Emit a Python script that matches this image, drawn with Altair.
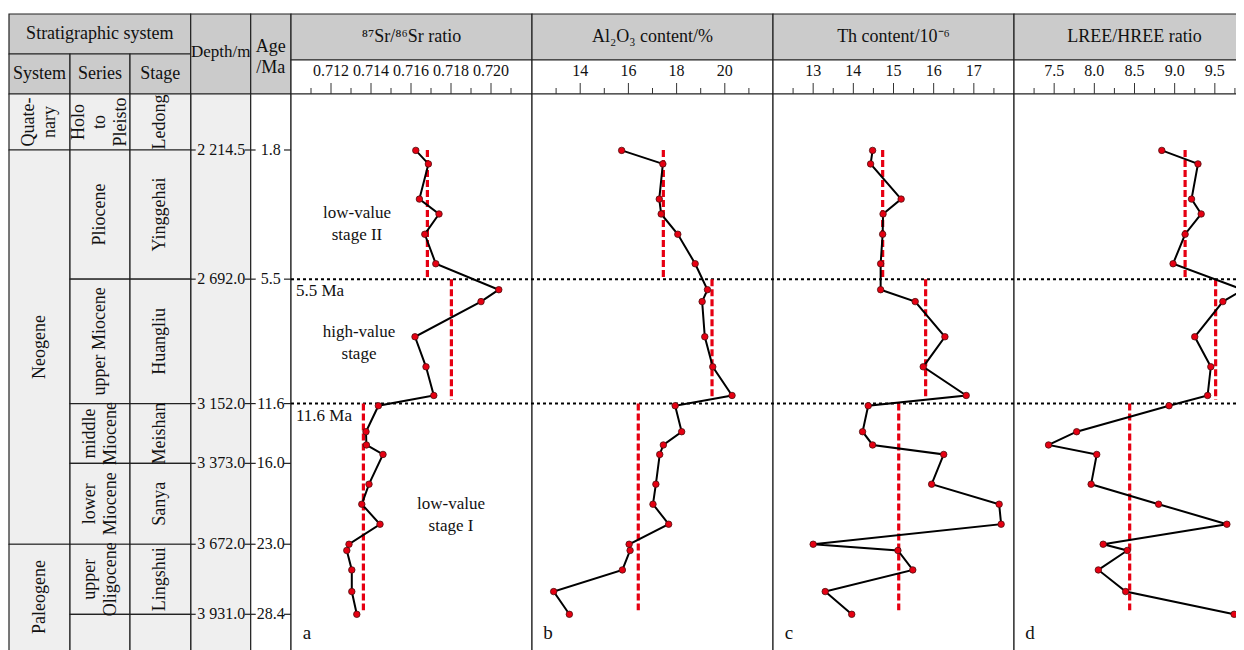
import altair as alt
import pandas as pd

# ------------------------------------------------------------------ data
sample_depth = [2216, 2266, 2396, 2451, 2526, 2635, 2731, 2775, 2905, 3016, 3122, 3160,
                3256, 3305, 3340, 3450, 3524, 3598, 3672, 3695, 3767, 3847, 3931]
sr_ratio = [0.71624, 0.71687, 0.71642, 0.71740, 0.71669, 0.71724, 0.72039, 0.71950,
            0.71620, 0.71675, 0.71714, 0.71437, 0.71375, 0.71377, 0.71460, 0.71390,
            0.71354, 0.71445, 0.71290, 0.71279, 0.71304, 0.71304, 0.71329]
al2o3 = [15.72, 17.43, 17.28, 17.36, 18.05, 18.77, 19.28, 19.06, 19.17, 19.50, 20.30, 17.94,
         18.21, 17.45, 17.30, 17.14, 17.02, 17.67, 16.03, 16.07, 15.75, 12.90, 13.55]
th = [14.48, 14.43, 15.19, 14.74, 14.73, 14.68, 14.68, 15.54, 16.28, 15.74, 16.81, 14.37,
      14.23, 14.48, 16.25, 15.95, 17.63, 17.68, 13.00, 15.11, 15.48, 13.30, 13.96]
lree_hree = [8.84, 9.29, 9.21, 9.33, 9.13, 8.98, 9.85, 9.60, 9.25, 9.45, 9.41, 8.93,
             7.78, 7.43, 8.03, 7.96, 8.80, 9.65, 8.11, 8.41, 8.05, 8.39, 9.74]

# stage averages (red dashed lines)
stage_top = [2214.5, 2692.0, 3152.0]
stage_bottom = [2688.0, 3138.0, 3916.0]
sr_mean = [0.71682, 0.71802, 0.71362]
al_mean = [17.45, 19.47, 16.41]
th_mean = [14.73, 15.80, 15.13]
lree_mean = [9.13, 9.51, 8.44]

# stratigraphic boundaries
boundary_depth = [2214.5, 2692.0, 3152.0, 3373.0, 3672.0, 3931.0]
depth_labels = ["2 214.5", "2 692.0", "3 152.0", "3 373.0", "3 672.0", "3 931.0"]
age_labels = ["1.8", "5.5", "11.6", "16.0", "23.0", "28.4"]
event_index = [1, 2]  # 5.5 Ma and 11.6 Ma dotted lines

system_names = ["Quate-\nnary", "Neogene", "Paleogene"]
system_top_bottom = [(None, 2214.5), (2214.5, 3672.0), (3672.0, None)]
series_names = ["Holo\nto\nPleisto", "Pliocene", "upper Miocene", "middle\nMiocene",
                "lower\nMiocene", "upper\nOligocene", ""]
stage_names = ["Ledong", "Yinggehai", "Huangliu", "Meishan", "Sanya", "Lingshui", ""]
unit_top_bottom = [(None, 2214.5), (2214.5, 2692.0), (2692.0, 3152.0), (3152.0, 3373.0),
                   (3373.0, 3672.0), (3672.0, 3931.0), (3931.0, None)]

sr_ticks = [0.712, 0.714, 0.716, 0.718, 0.720]
sr_tick_labels = ["0.712", "0.714", "0.716", "0.718", "0.720"]
sr_minor = [0.711, 0.713, 0.715, 0.717, 0.719, 0.721]
al_ticks = [14, 16, 18, 20]
al_tick_labels = ["14", "16", "18", "20"]
al_minor = [13, 15, 17, 19, 21]
th_ticks = [13, 14, 15, 16, 17]
th_tick_labels = ["13", "14", "15", "16", "17"]
th_minor = [12.5, 13.5, 14.5, 15.5, 16.5, 17.5]
lr_ticks = [7.5, 8.0, 8.5, 9.0, 9.5]
lr_tick_labels = ["7.5", "8.0", "8.5", "9.0", "9.5"]
lr_minor = [7.25, 7.75, 8.25, 8.75, 9.25, 9.75]

annotations = ["low-value\nstage II", "high-value\nstage", "low-value\nstage I"]
annotation_sr = [0.7133, 0.7134, 0.7180]
annotation_depth = [2447, 2886, 3524]   # depth of first text line

# ------------------------------------------------------------------ layout / style
FONT = "Liberation Serif"
INK = "#111111"
LINE = "#222222"
GREY = "#cbcbcb"
LIGHT = "#efefef"
RED = "#e60012"
W, H = 1228, 642
TOP_Y, STRAT_ROW_Y, PANEL_ROW_Y, BODY_Y, BOTTOM_Y = 6, 46, 52, 86, 660
COL = [1, 62, 122, 182.7, 242.7, 283]
PANEL_X = [283, 524, 765, 1006, 1247]
D_TOP, D_BOT, D_BEYOND = 2007.5, 4063.0, 4130.0
DEPTH_RANGE_END = 642
LH = 21  # line height of stacked cell text

LAYOUT_X = alt.Scale(domain=[0, W], range=[0, W], nice=False, zero=False)
LAYOUT_Y = alt.Scale(domain=[0, H], range=[0, H], nice=False, zero=False)
DEPTH_Y = alt.Scale(domain=[D_TOP, D_BOT], range=[BODY_Y, DEPTH_RANGE_END],
                    nice=False, zero=False)

panels = [
    dict(title="⁸⁷Sr/⁸⁶Sr ratio", values=sr_ratio, means=sr_mean, domain=[0.710, 0.72205],
         ticks=sr_ticks, labels=sr_tick_labels, minor=sr_minor, letter="a"),
    dict(title="Al₂O₃ content/%", values=al2o3, means=al_mean, domain=[12.0, 22.0],
         ticks=al_ticks, labels=al_tick_labels, minor=al_minor, letter="b"),
    dict(title="Th content/10⁻⁶", values=th, means=th_mean, domain=[12.0, 18.0],
         ticks=th_ticks, labels=th_tick_labels, minor=th_minor, letter="c"),
    dict(title="LREE/HREE ratio", values=lree_hree, means=lree_mean, domain=[7.0, 10.0],
         ticks=lr_ticks, labels=lr_tick_labels, minor=lr_minor, letter="d"),
]

layers = []

# ---- frame cells (header + plain body columns)
cells = [
    dict(x0=COL[0], x1=COL[3], y0=TOP_Y, y1=STRAT_ROW_Y, fill=GREY),
    dict(x0=COL[0], x1=COL[1], y0=STRAT_ROW_Y, y1=BODY_Y, fill=GREY),
    dict(x0=COL[1], x1=COL[2], y0=STRAT_ROW_Y, y1=BODY_Y, fill=GREY),
    dict(x0=COL[2], x1=COL[3], y0=STRAT_ROW_Y, y1=BODY_Y, fill=GREY),
    dict(x0=COL[3], x1=COL[4], y0=TOP_Y, y1=BODY_Y, fill=GREY),
    dict(x0=COL[4], x1=COL[5], y0=TOP_Y, y1=BODY_Y, fill=GREY),
    dict(x0=COL[3], x1=COL[4], y0=BODY_Y, y1=BOTTOM_Y, fill=LIGHT),
    dict(x0=COL[4], x1=COL[5], y0=BODY_Y, y1=BOTTOM_Y, fill="white"),
]
for i in range(4):
    x0, x1 = PANEL_X[i], PANEL_X[i + 1]
    cells.append(dict(x0=x0, x1=x1, y0=TOP_Y, y1=PANEL_ROW_Y, fill=GREY))
    cells.append(dict(x0=x0, x1=x1, y0=PANEL_ROW_Y, y1=BODY_Y, fill="white"))
    cells.append(dict(x0=x0, x1=x1, y0=BODY_Y, y1=BOTTOM_Y, fill="white"))

layers.append(
    alt.Chart(pd.DataFrame(cells)).mark_rect(stroke=LINE, strokeWidth=1.2).encode(
        x=alt.X("x0:Q", scale=LAYOUT_X, axis=None), x2="x1:Q",
        y=alt.Y("y0:Q", scale=LAYOUT_Y, axis=None), y2="y1:Q",
        fill=alt.Fill("fill:N", scale=None))
)

# ---- stratigraphic body cells (depth based)
units = []
for names, tb, c0, c1 in [(system_names, system_top_bottom, COL[0], COL[1]),
                          (series_names, unit_top_bottom, COL[1], COL[2]),
                          (stage_names, unit_top_bottom, COL[2], COL[3])]:
    for n, (t, b) in zip(names, tb):
        t = D_TOP if t is None else t
        b_vis = D_BOT if b is None else b
        b = D_BEYOND if b is None else b
        nlines = n.count("\n") + 1
        units.append(dict(x0=c0, x1=c1, top=t, bottom=b,
                          xt=(c0 + c1) / 2 - (nlines - 1) * LH / 2,
                          mid=(t + b_vis) / 2, name=n))
units_df = pd.DataFrame(units)
layers.append(
    alt.Chart(units_df).mark_rect(stroke=LINE, strokeWidth=1.2, fill=LIGHT).encode(
        x=alt.X("x0:Q", scale=LAYOUT_X, axis=None), x2="x1:Q",
        y=alt.Y("top:Q", scale=DEPTH_Y, axis=None), y2="bottom:Q")
)
layers.append(
    alt.Chart(units_df).mark_text(angle=270, lineBreak="\n", font=FONT, fontSize=18,
                                  lineHeight=LH, color=INK, align="center",
                                  baseline="middle").encode(
        x=alt.X("xt:Q", scale=LAYOUT_X, axis=None),
        y=alt.Y("mid:Q", scale=DEPTH_Y, axis=None),
        text="name:N")
)

# ---- header texts
head = [
    dict(x=(COL[0] + COL[3]) / 2, y=26, text="Stratigraphic system", size=18),
    dict(x=(COL[0] + COL[1]) / 2, y=66, text="System", size=18),
    dict(x=(COL[1] + COL[2]) / 2, y=66, text="Series", size=18),
    dict(x=(COL[2] + COL[3]) / 2, y=66, text="Stage", size=18),
    dict(x=(COL[3] + COL[4]) / 2, y=44, text="Depth/m", size=17),
    dict(x=(COL[4] + COL[5]) / 2, y=39, text="Age\n/Ma", size=18),
]
for i, p in enumerate(panels):
    head.append(dict(x=(PANEL_X[i] + PANEL_X[i + 1]) / 2, y=29, text=p["title"], size=18))
    head.append(dict(x=PANEL_X[i] + 16, y=625, text=p["letter"], size=19))
layers.append(
    alt.Chart(pd.DataFrame(head)).mark_text(font=FONT, lineBreak="\n", lineHeight=21,
                                            color=INK, align="center",
                                            baseline="middle").encode(
        x=alt.X("x:Q", scale=LAYOUT_X, axis=None),
        y=alt.Y("y:Q", scale=LAYOUT_Y, axis=None),
        text="text:N", size=alt.Size("size:Q", scale=None))
)

# ---- depth / age boundary ticks and labels
bdf = pd.DataFrame(dict(depth=boundary_depth, dlab=depth_labels, alab=age_labels))
for xa, xb in [(COL[3], COL[3] + 5), (COL[4] - 6, COL[4] + 5), (COL[5] - 7, COL[5])]:
    layers.append(
        alt.Chart(bdf).mark_rule(color=LINE, strokeWidth=1.2).encode(
            x=alt.value(xa), x2=alt.value(xb),
            y=alt.Y("depth:Q", scale=DEPTH_Y, axis=None))
    )
layers.append(
    alt.Chart(bdf).mark_text(font=FONT, fontSize=16, color=INK, align="left",
                             baseline="middle").encode(
        x=alt.value(COL[3] + 6.5), y=alt.Y("depth:Q", scale=DEPTH_Y, axis=None),
        text="dlab:N")
)
layers.append(
    alt.Chart(bdf).mark_text(font=FONT, fontSize=16, color=INK, align="center",
                             baseline="middle").encode(
        x=alt.value((COL[4] + COL[5]) / 2), y=alt.Y("depth:Q", scale=DEPTH_Y, axis=None),
        text="alab:N")
)

# ---- event dotted lines (5.5 Ma, 11.6 Ma)
edf = pd.DataFrame(dict(depth=[boundary_depth[i] for i in event_index],
                        lab=[age_labels[i] + " Ma" for i in event_index]))
layers.append(
    alt.Chart(edf).mark_rule(color="black", strokeWidth=2, strokeDash=[3, 3]).encode(
        x=alt.value(COL[5]), x2=alt.value(PANEL_X[-1]),
        y=alt.Y("depth:Q", scale=DEPTH_Y, axis=None))
)
layers.append(
    alt.Chart(edf).mark_text(font=FONT, fontSize=17, color=INK, align="left",
                             baseline="middle", dy=12).encode(
        x=alt.value(COL[5] + 5), y=alt.Y("depth:Q", scale=DEPTH_Y, axis=None),
        text="lab:N")
)

# ---- panels
for i, p in enumerate(panels):
    ps = alt.Scale(domain=p["domain"], range=[PANEL_X[i], PANEL_X[i + 1]],
                   nice=False, zero=False)
    tdf = pd.DataFrame(dict(t=p["ticks"], lab=p["labels"]))
    mdf = pd.DataFrame(dict(t=p["minor"]))
    layers.append(
        alt.Chart(tdf).mark_rule(color="#333333", strokeWidth=1).encode(
            x=alt.X("t:Q", scale=ps, axis=None), y=alt.value(75), y2=alt.value(BODY_Y))
    )
    layers.append(
        alt.Chart(mdf).mark_rule(color="#333333", strokeWidth=1).encode(
            x=alt.X("t:Q", scale=ps, axis=None), y=alt.value(80), y2=alt.value(BODY_Y))
    )
    layers.append(
        alt.Chart(tdf).mark_text(font=FONT, fontSize=16, color=INK, align="center",
                                 baseline="middle").encode(
            x=alt.X("t:Q", scale=ps, axis=None), y=alt.value(63), text="lab:N")
    )
    mean_df = pd.DataFrame(dict(m=p["means"], top=stage_top, bottom=stage_bottom))
    layers.append(
        alt.Chart(mean_df).mark_rule(color=RED, strokeWidth=3.2, strokeDash=[7, 3]).encode(
            x=alt.X("m:Q", scale=ps, axis=None),
            y=alt.Y("top:Q", scale=DEPTH_Y, axis=None), y2="bottom:Q")
    )
    ddf = pd.DataFrame(dict(depth=sample_depth, v=p["values"]))
    layers.append(
        alt.Chart(ddf).mark_line(color="black", strokeWidth=2).encode(
            x=alt.X("v:Q", scale=ps, axis=None),
            y=alt.Y("depth:Q", scale=DEPTH_Y, axis=None),
            order=alt.Order("depth:Q"))
    )
    layers.append(
        alt.Chart(ddf).mark_point(filled=True, fill=RED, color=RED, stroke="#4a1010",
                                  strokeWidth=0.8, size=42, opacity=1).encode(
            x=alt.X("v:Q", scale=ps, axis=None),
            y=alt.Y("depth:Q", scale=DEPTH_Y, axis=None))
    )
    if i == 0:
        adf = pd.DataFrame(dict(t=annotations, v=annotation_sr, depth=annotation_depth))
        layers.append(
            alt.Chart(adf).mark_text(font=FONT, fontSize=17, lineBreak="\n", lineHeight=22,
                                     color=INK, align="center", baseline="middle").encode(
                x=alt.X("v:Q", scale=ps, axis=None),
                y=alt.Y("depth:Q", scale=DEPTH_Y, axis=None),
                text="t:N")
        )

chart = alt.layer(*layers).resolve_scale(x="independent", y="independent").properties(
    width=W, height=H, padding=0, autosize=alt.AutoSizeParams(type="none")
).configure_view(stroke=None)

chart.save("out.html", embed_options={"renderer": "svg", "actions": False})
